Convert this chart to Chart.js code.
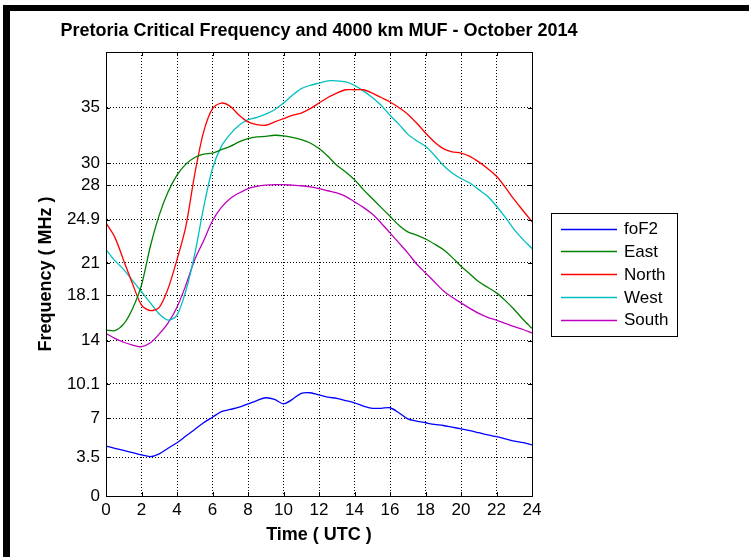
<!DOCTYPE html>
<html><head><meta charset="utf-8">
<script src="https://cdn.jsdelivr.net/npm/chart.js@4.4.1/dist/chart.umd.min.js"></script>
<style>html,body{margin:0;padding:0;background:#fff;overflow:hidden}#c{display:block}</style>
</head><body>
<canvas id="c" width="749" height="557"></canvas>
<script>
const titleText = "Pretoria Critical Frequency and 4000 km MUF - October 2014";
const xTitle = "Time ( UTC )";
const yTitle = "Frequency ( MHz )";
const hours = [0,0.5,1,1.5,2,2.5,3,3.5,4,4.5,5,5.5,6,6.5,7,7.5,8,8.5,9,9.5,10,10.5,11,11.5,12,12.5,13,13.5,14,14.5,15,15.5,16,16.5,17,17.5,18,18.5,19,19.5,20,20.5,21,21.5,22,22.5,23,23.5,24];
const foF2 = [4.5,4.3,4.1,3.9,3.7,3.55,3.8,4.3,4.8,5.4,6.0,6.6,7.1,7.6,7.8,8.0,8.3,8.6,8.85,8.7,8.3,8.7,9.25,9.3,9.1,8.9,8.8,8.6,8.4,8.1,7.9,7.9,7.95,7.5,6.95,6.75,6.6,6.45,6.35,6.2,6.05,5.9,5.7,5.5,5.35,5.15,4.95,4.8,4.6];
const east = [14.95,14.9,15.5,16.9,19.0,22.5,25.3,27.4,28.9,29.9,30.5,30.8,30.9,31.2,31.5,31.9,32.2,32.35,32.4,32.5,32.45,32.3,32.1,31.8,31.3,30.6,29.8,29.2,28.5,27.6,26.8,26.0,25.2,24.4,23.8,23.5,23.15,22.7,22.2,21.5,20.7,20.0,19.3,18.8,18.3,17.6,16.8,15.9,15.1];
const north = [24.6,23.3,21.2,19.1,17.2,16.7,17.0,18.7,21.3,24.3,29.0,32.8,34.9,35.4,35.1,34.3,33.7,33.45,33.4,33.7,34.0,34.3,34.5,34.9,35.4,35.9,36.3,36.6,36.6,36.6,36.3,35.9,35.5,35.0,34.4,33.6,32.7,31.9,31.3,31.0,30.9,30.6,30.1,29.5,28.8,27.8,26.7,25.7,24.7];
const west = [22.2,21.2,20.4,19.4,18.4,17.4,16.4,15.85,16.3,18.5,21.8,26.0,29.5,31.5,32.6,33.4,33.9,34.1,34.4,34.8,35.4,36.1,36.7,37.0,37.2,37.4,37.4,37.3,37.0,36.5,35.9,35.2,34.3,33.5,32.6,32.0,31.5,30.7,29.8,29.1,28.6,28.2,27.6,27.0,26.1,25.1,24.0,23.1,22.3];
const south = [14.65,14.2,13.85,13.6,13.45,13.8,14.6,15.6,17.0,19.0,21.3,23.0,24.8,26.0,26.8,27.3,27.7,27.9,28.0,28.05,28.05,28.0,27.95,27.85,27.7,27.5,27.3,27.0,26.5,26.0,25.4,24.6,23.7,22.8,21.9,20.9,20.1,19.3,18.5,17.9,17.4,16.9,16.45,16.1,15.85,15.55,15.25,15.0,14.7];
const seriesNames = ["foF2","East","North","West","South"];
const xTicks = [0,2,4,6,8,10,12,14,16,18,20,22,24];
const yTicks = [0,3.5,7,10.1,14,18.1,21,24.9,28,30,35];
const yTickLabels = ["0","3.5","7","10.1","14","18.1","21","24.9","28","30","35"];

const colors = ["#0000ff","#008000","#ff0000","#00bfbf","#bf00bf"];
const FONT = 'Arial, "Liberation Sans", Helvetica, sans-serif';
const seriesList = [foF2, east, north, west, south];

const datasets = seriesList.map((arr, i) => ({
  label: seriesNames[i],
  data: hours.map((h, j) => ({x: h, y: arr[j]})),
  borderColor: colors[i],
  backgroundColor: colors[i],
  borderWidth: 1.3,
  pointRadius: 0,
  tension: 0.3,
  fill: false
}));

const decorPlugin = {
  id: 'decor',
  beforeDraw(chart) {
    const ctx = chart.ctx;
    ctx.save();
    ctx.fillStyle = '#fff';
    ctx.fillRect(0, 0, chart.width, chart.height);
    ctx.fillStyle = '#000';
    ctx.fillRect(3, 5, chart.width - 3, 6);
    ctx.fillRect(3, 5, 7, chart.height - 5);
    ctx.restore();
  },
  afterDraw(chart) {
    const ctx = chart.ctx;
    const a = chart.chartArea;
    const xs = chart.scales.x, ys = chart.scales.y;
    ctx.save();
    // box
    ctx.strokeStyle = '#000';
    ctx.lineWidth = 1;
    ctx.strokeRect(Math.round(a.left) + 0.5, Math.round(a.top) + 0.5, Math.round(a.right - a.left), Math.round(a.bottom - a.top));
    // inward tick marks
    ctx.beginPath();
    xTicks.forEach(v => {
      const px = Math.round(xs.getPixelForValue(v)) + 0.5;
      ctx.moveTo(px, a.bottom); ctx.lineTo(px, a.bottom - 4);
      ctx.moveTo(px, a.top); ctx.lineTo(px, a.top + 4);
    });
    yTicks.forEach(v => {
      const py = Math.round(ys.getPixelForValue(v)) + 0.5;
      ctx.moveTo(a.left, py); ctx.lineTo(a.left + 4, py);
      ctx.moveTo(a.right, py); ctx.lineTo(a.right - 4, py);
    });
    ctx.stroke();
    // title
    ctx.fillStyle = '#000';
    ctx.font = 'bold 18px ' + FONT;
    ctx.textAlign = 'center';
    ctx.textBaseline = 'middle';
    ctx.fillText(titleText, (a.left + a.right) / 2, 31);
    // legend
    const bx = 551, by = 213, bw = 126, bh = 123;
    ctx.fillStyle = '#fff';
    ctx.fillRect(bx, by, bw, bh);
    ctx.strokeStyle = '#000';
    ctx.strokeRect(bx + 0.5, by + 0.5, bw, bh);
    ctx.font = '17px ' + FONT;
    ctx.textAlign = 'left';
    chart.data.datasets.forEach((ds, i) => {
      const y = 228.5 + i * 22.8;
      ctx.strokeStyle = ds.borderColor;
      ctx.lineWidth = 1.3;
      ctx.beginPath();
      ctx.moveTo(561, Math.round(y) + 0.5);
      ctx.lineTo(617, Math.round(y) + 0.5);
      ctx.stroke();
      ctx.fillStyle = '#000';
      ctx.fillText(ds.label, 624, y + 1);
    });
    ctx.restore();
  }
};

new Chart(document.getElementById('c'), {
  type: 'line',
  data: { datasets },
  options: {
    responsive: false,
    animation: false,
    devicePixelRatio: 1,
    layout: { padding: { left: 0, right: 217, top: 52, bottom: 0 } },
    plugins: { legend: { display: false }, title: { display: false }, tooltip: { enabled: false } },
    scales: {
      x: {
        type: 'linear', min: 0, max: 24,
        afterFit(scale) { scale.height = 61; },
        afterBuildTicks(scale) { scale.ticks = xTicks.map(v => ({ value: v })); },
        ticks: { color: '#000', font: { family: FONT, size: 17 }, padding: 4, maxRotation: 0, autoSkip: false, callback: v => String(v) },
        grid: { color: '#000', lineWidth: 1, drawTicks: false },
        border: { display: true, color: '#000', width: 1, dash: [1, 2] },
        title: { display: true, text: xTitle, color: '#000', font: { family: FONT, size: 18, weight: 'bold' }, padding: { top: 0, bottom: 11 } }
      },
      y: {
        type: 'linear', min: 0, max: 40,
        afterFit(scale) { scale.width = 106; },
        afterBuildTicks(scale) { scale.ticks = yTicks.map(v => ({ value: v })); },
        ticks: { color: '#000', font: { family: FONT, size: 17 }, padding: 6, autoSkip: false,
          callback: (v) => { const k = yTicks.indexOf(v); return k >= 0 ? yTickLabels[k] : ''; } },
        grid: { color: '#000', lineWidth: 1, drawTicks: false },
        border: { display: true, color: '#000', width: 1, dash: [1, 2] },
        title: { display: true, text: yTitle, color: '#000', font: { family: FONT, size: 18, weight: 'bold' }, padding: { top: 35, bottom: 0 } }
      }
    }
  },
  plugins: [decorPlugin]
});
</script>
</body></html>
